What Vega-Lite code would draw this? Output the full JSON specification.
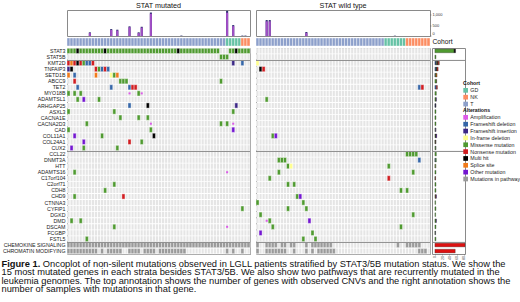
{
"$schema":"https://vega.github.io/schema/vega-lite/v6.json",
"padding":{"left":1,"top":1,"right":0,"bottom":0},
"background":"white",
"config":{"font":"Liberation Sans","view":{"stroke":"#8a8a8a","strokeWidth":1},"title":{"fontSize":7.2,"fontWeight":"normal","offset":1,"color":"#111","anchor":"middle","frame":"group"}},
"title":{"text":"Figure 1.","subtitle":["\u200b\u00a0\u00a0\u00a0\u00a0\u00a0\u00a0\u00a0\u00a0\u00a0\u00a0\u00a0\u00a0\u00a0\u00a0\u00a0\u00a0Oncoplot of non-silent mutations observed in LGLL patients stratified by STAT3/5B mutation status. We show the","15 most mutated genes in each strata besides STAT3/5B. We also show two pathways that are recurrently mutated in the","leukemia genomes. The top annotation shows the number of genes with observed CNVs and the right annotation shows the","number of samples with mutations in that gene."],"orient":"bottom","anchor":"start","frame":"bounds","fontSize":9.3,"fontWeight":"bold","color":"#111","subtitleFontSize":9.3,"subtitleFontWeight":"normal","subtitleColor":"#111","subtitlePadding":-9.3,"subtitleLineHeight":8.35,"offset":0,"font":"Liberation Sans","subtitleFont":"Liberation Sans"},
"datasets":{
"genes":[{"g":"STAT3"},{"g":"STAT5B"},{"g":"KMT2D"},{"g":"TNFAIP3"},{"g":"SETD1B"},{"g":"ABCC9"},{"g":"TET2"},{"g":"MYO18B"},{"g":"ADAMTSL1"},{"g":"ARHGAP25"},{"g":"ASXL3"},{"g":"CACNA1E"},{"g":"CACNA2D3"},{"g":"CAD"},{"g":"COL11A1"},{"g":"COL24A1"},{"g":"CUX2"},{"g":"CCL22"},{"g":"DNMT3A"},{"g":"HTT"},{"g":"ADAMTS16"},{"g":"C17orf104"},{"g":"C2orf71"},{"g":"CDH8"},{"g":"CHD9"},{"g":"CTNNA3"},{"g":"CYFIP1"},{"g":"DGKD"},{"g":"DMD"},{"g":"DSCAM"},{"g":"FCGBP"},{"g":"FSTL5"},{"g":"CHEMOKINE SIGNALING"},{"g":"CHROMATIN MODIFYING"}],
"seps":[{"g":"KMT2D"},{"g":"CCL22"},{"g":"CHEMOKINE SIGNALING"}],
"samples":[
{"p":"L","c":0,"co":"T","cnv":0,"gain":0},{"p":"L","c":1,"co":"T","cnv":0,"gain":0},{"p":"L","c":2,"co":"T","cnv":0,"gain":0},{"p":"L","c":3,"co":"T","cnv":0,"gain":0},{"p":"L","c":4,"co":"T","cnv":0,"gain":0},{"p":"L","c":5,"co":"T","cnv":0,"gain":0},{"p":"L","c":6,"co":"T","cnv":0,"gain":0},{"p":"L","c":7,"co":"T","cnv":175,"gain":140},{"p":"L","c":8,"co":"T","cnv":0,"gain":0},{"p":"L","c":9,"co":"T","cnv":0,"gain":0},
{"p":"L","c":10,"co":"T","cnv":0,"gain":0},{"p":"L","c":11,"co":"T","cnv":0,"gain":0},{"p":"L","c":12,"co":"T","cnv":0,"gain":0},{"p":"L","c":13,"co":"T","cnv":0,"gain":0},{"p":"L","c":14,"co":"T","cnv":330,"gain":290},{"p":"L","c":15,"co":"T","cnv":0,"gain":0},{"p":"L","c":16,"co":"T","cnv":300,"gain":260},{"p":"L","c":17,"co":"T","cnv":0,"gain":0},{"p":"L","c":18,"co":"T","cnv":0,"gain":0},{"p":"L","c":19,"co":"T","cnv":0,"gain":0},
{"p":"L","c":20,"co":"T","cnv":460,"gain":420},{"p":"L","c":21,"co":"T","cnv":0,"gain":0},{"p":"L","c":22,"co":"T","cnv":0,"gain":0},{"p":"L","c":23,"co":"T","cnv":175,"gain":140},{"p":"L","c":24,"co":"T","cnv":440,"gain":400},{"p":"L","c":25,"co":"T","cnv":0,"gain":0},{"p":"L","c":26,"co":"T","cnv":0,"gain":0},{"p":"L","c":27,"co":"T","cnv":1120,"gain":1060},{"p":"L","c":28,"co":"T","cnv":0,"gain":0},{"p":"L","c":29,"co":"T","cnv":0,"gain":0},
{"p":"L","c":30,"co":"T","cnv":0,"gain":0},{"p":"L","c":31,"co":"T","cnv":0,"gain":0},{"p":"L","c":32,"co":"T","cnv":0,"gain":0},{"p":"L","c":33,"co":"T","cnv":0,"gain":0},{"p":"L","c":34,"co":"T","cnv":0,"gain":0},{"p":"L","c":35,"co":"T","cnv":0,"gain":0},{"p":"L","c":36,"co":"T","cnv":0,"gain":0},{"p":"L","c":37,"co":"T","cnv":20,"gain":0},{"p":"L","c":38,"co":"T","cnv":0,"gain":0},{"p":"L","c":39,"co":"T","cnv":0,"gain":0},
{"p":"L","c":40,"co":"T","cnv":0,"gain":0},{"p":"L","c":41,"co":"T","cnv":0,"gain":0},{"p":"L","c":42,"co":"T","cnv":0,"gain":0},{"p":"L","c":43,"co":"T","cnv":0,"gain":0},{"p":"L","c":44,"co":"T","cnv":0,"gain":0},{"p":"L","c":45,"co":"T","cnv":0,"gain":0},{"p":"L","c":46,"co":"T","cnv":0,"gain":0},{"p":"L","c":47,"co":"T","cnv":0,"gain":0},{"p":"L","c":48,"co":"T","cnv":0,"gain":0},{"p":"L","c":49,"co":"T","cnv":0,"gain":0},
{"p":"L","c":50,"co":"T","cnv":0,"gain":0},{"p":"L","c":51,"co":"T","cnv":0,"gain":0},{"p":"L","c":52,"co":"GD","cnv":1200,"gain":1110},{"p":"L","c":53,"co":"GD","cnv":0,"gain":0},{"p":"L","c":54,"co":"GD","cnv":520,"gain":470},{"p":"L","c":55,"co":"GD","cnv":0,"gain":0},{"p":"L","c":56,"co":"GD","cnv":0,"gain":0},{"p":"L","c":57,"co":"NK","cnv":20,"gain":0},{"p":"L","c":58,"co":"NK","cnv":20,"gain":0},{"p":"L","c":59,"co":"NK","cnv":0,"gain":0},
{"p":"R","c":0,"co":"T","cnv":0,"gain":0},{"p":"R","c":1,"co":"T","cnv":0,"gain":0},{"p":"R","c":2,"co":"T","cnv":0,"gain":0},{"p":"R","c":3,"co":"T","cnv":760,"gain":700},{"p":"R","c":4,"co":"T","cnv":760,"gain":700},{"p":"R","c":5,"co":"T","cnv":0,"gain":0},{"p":"R","c":6,"co":"T","cnv":0,"gain":0},{"p":"R","c":7,"co":"T","cnv":0,"gain":0},{"p":"R","c":8,"co":"T","cnv":0,"gain":0},{"p":"R","c":9,"co":"T","cnv":0,"gain":0},
{"p":"R","c":10,"co":"T","cnv":0,"gain":0},{"p":"R","c":11,"co":"T","cnv":0,"gain":0},{"p":"R","c":12,"co":"T","cnv":0,"gain":0},{"p":"R","c":13,"co":"T","cnv":0,"gain":0},{"p":"R","c":14,"co":"T","cnv":0,"gain":0},{"p":"R","c":15,"co":"T","cnv":0,"gain":0},{"p":"R","c":16,"co":"T","cnv":190,"gain":150},{"p":"R","c":17,"co":"T","cnv":0,"gain":0},{"p":"R","c":18,"co":"T","cnv":0,"gain":0},{"p":"R","c":19,"co":"T","cnv":0,"gain":0},
{"p":"R","c":20,"co":"T","cnv":0,"gain":0},{"p":"R","c":21,"co":"T","cnv":0,"gain":0},{"p":"R","c":22,"co":"T","cnv":0,"gain":0},{"p":"R","c":23,"co":"T","cnv":0,"gain":0},{"p":"R","c":24,"co":"T","cnv":0,"gain":0},{"p":"R","c":25,"co":"T","cnv":0,"gain":0},{"p":"R","c":26,"co":"T","cnv":0,"gain":0},{"p":"R","c":27,"co":"T","cnv":0,"gain":0},{"p":"R","c":28,"co":"T","cnv":0,"gain":0},{"p":"R","c":29,"co":"T","cnv":0,"gain":0},
{"p":"R","c":30,"co":"T","cnv":0,"gain":0},{"p":"R","c":31,"co":"T","cnv":0,"gain":0},{"p":"R","c":32,"co":"T","cnv":0,"gain":0},{"p":"R","c":33,"co":"T","cnv":0,"gain":0},{"p":"R","c":34,"co":"T","cnv":0,"gain":0},{"p":"R","c":35,"co":"T","cnv":0,"gain":0},{"p":"R","c":36,"co":"T","cnv":0,"gain":0},{"p":"R","c":37,"co":"T","cnv":0,"gain":0},{"p":"R","c":38,"co":"T","cnv":0,"gain":0},{"p":"R","c":39,"co":"T","cnv":0,"gain":0},
{"p":"R","c":40,"co":"T","cnv":0,"gain":0},{"p":"R","c":41,"co":"T","cnv":0,"gain":0},{"p":"R","c":42,"co":"GD","cnv":0,"gain":0},{"p":"R","c":43,"co":"GD","cnv":0,"gain":0},{"p":"R","c":44,"co":"GD","cnv":0,"gain":0},{"p":"R","c":45,"co":"GD","cnv":15,"gain":0},{"p":"R","c":46,"co":"GD","cnv":0,"gain":0},{"p":"R","c":47,"co":"GD","cnv":0,"gain":0},{"p":"R","c":48,"co":"GD","cnv":0,"gain":0},{"p":"R","c":49,"co":"NK","cnv":0,"gain":0},
{"p":"R","c":50,"co":"NK","cnv":0,"gain":0},{"p":"R","c":51,"co":"NK","cnv":0,"gain":0},{"p":"R","c":52,"co":"NK","cnv":0,"gain":0},{"p":"R","c":53,"co":"NK","cnv":0,"gain":0},{"p":"R","c":54,"co":"NK","cnv":0,"gain":0},{"p":"R","c":55,"co":"NK","cnv":0,"gain":0},{"p":"R","c":56,"co":"NK","cnv":0,"gain":0}
],
"muts":[
{"p":"L","c":0,"g":"STAT3","t":"Missense mutation"},{"p":"L","c":1,"g":"STAT3","t":"Missense mutation"},{"p":"L","c":2,"g":"STAT3","t":"Missense mutation"},{"p":"L","c":3,"g":"STAT3","t":"Multi hit"},{"p":"L","c":4,"g":"STAT3","t":"Missense mutation"},{"p":"L","c":5,"g":"STAT3","t":"Missense mutation"},{"p":"L","c":6,"g":"STAT3","t":"Missense mutation"},{"p":"L","c":7,"g":"STAT3","t":"Missense mutation"},{"p":"L","c":8,"g":"STAT3","t":"Missense mutation"},{"p":"L","c":9,"g":"STAT3","t":"Missense mutation"},
{"p":"L","c":10,"g":"STAT3","t":"Missense mutation"},{"p":"L","c":11,"g":"STAT3","t":"Missense mutation"},{"p":"L","c":12,"g":"STAT3","t":"Multi hit"},{"p":"L","c":13,"g":"STAT3","t":"Missense mutation"},{"p":"L","c":14,"g":"STAT3","t":"Missense mutation"},{"p":"L","c":15,"g":"STAT3","t":"Missense mutation"},{"p":"L","c":16,"g":"STAT3","t":"Missense mutation"},{"p":"L","c":17,"g":"STAT3","t":"Missense mutation"},{"p":"L","c":18,"g":"STAT3","t":"Missense mutation"},{"p":"L","c":19,"g":"STAT3","t":"Missense mutation"},
{"p":"L","c":20,"g":"STAT3","t":"Missense mutation"},{"p":"L","c":21,"g":"STAT3","t":"Missense mutation"},{"p":"L","c":22,"g":"STAT3","t":"Missense mutation"},{"p":"L","c":23,"g":"STAT3","t":"Missense mutation"},{"p":"L","c":24,"g":"STAT3","t":"Missense mutation"},{"p":"L","c":25,"g":"STAT3","t":"Missense mutation"},{"p":"L","c":26,"g":"STAT3","t":"Missense mutation"},{"p":"L","c":27,"g":"STAT3","t":"Missense mutation"},{"p":"L","c":28,"g":"STAT3","t":"Missense mutation"},{"p":"L","c":29,"g":"STAT3","t":"Missense mutation"},
{"p":"L","c":30,"g":"STAT3","t":"Missense mutation"},{"p":"L","c":31,"g":"STAT3","t":"Missense mutation"},{"p":"L","c":32,"g":"STAT3","t":"Missense mutation"},{"p":"L","c":33,"g":"STAT3","t":"Missense mutation"},{"p":"L","c":34,"g":"STAT3","t":"Missense mutation"},{"p":"L","c":35,"g":"STAT3","t":"Missense mutation"},{"p":"L","c":36,"g":"STAT3","t":"Multi hit"},{"p":"L","c":37,"g":"STAT3","t":"Missense mutation"},{"p":"L","c":38,"g":"STAT3","t":"Missense mutation"},{"p":"L","c":39,"g":"STAT3","t":"Missense mutation"},
{"p":"L","c":40,"g":"STAT3","t":"Missense mutation"},{"p":"L","c":41,"g":"STAT3","t":"Missense mutation"},{"p":"L","c":42,"g":"STAT3","t":"Missense mutation"},{"p":"L","c":43,"g":"STAT3","t":"Missense mutation"},{"p":"L","c":44,"g":"STAT3","t":"Missense mutation"},{"p":"L","c":45,"g":"STAT3","t":"Missense mutation"},{"p":"L","c":46,"g":"STAT3","t":"Missense mutation"},{"p":"L","c":47,"g":"STAT3","t":"Missense mutation"},{"p":"L","c":48,"g":"STAT3","t":"Missense mutation"},{"p":"L","c":49,"g":"STAT3","t":"Missense mutation"},
{"p":"L","c":53,"g":"STAT3","t":"Missense mutation"},{"p":"L","c":54,"g":"STAT3","t":"Missense mutation"},{"p":"L","c":55,"g":"STAT3","t":"Multi hit"},{"p":"L","c":56,"g":"STAT3","t":"Missense mutation"},{"p":"L","c":57,"g":"STAT3","t":"Missense mutation"},{"p":"L","c":58,"g":"STAT3","t":"Missense mutation"},{"p":"L","c":59,"g":"STAT3","t":"Missense mutation"},
{"p":"L","c":50,"g":"STAT5B","t":"Missense mutation"},{"p":"L","c":51,"g":"STAT5B","t":"Missense mutation"},{"p":"L","c":52,"g":"STAT5B","t":"Missense mutation"},
{"p":"L","c":0,"g":"KMT2D","t":"Nonsense mutation"},{"p":"L","c":1,"g":"KMT2D","t":"Splice site"},{"p":"L","c":2,"g":"KMT2D","t":"Nonsense mutation"},{"p":"L","c":3,"g":"KMT2D","t":"Multi hit"},{"p":"L","c":4,"g":"KMT2D","t":"Nonsense mutation"},{"p":"L","c":5,"g":"KMT2D","t":"Missense mutation"},{"p":"L","c":6,"g":"KMT2D","t":"Frameshift deletion"},{"p":"L","c":7,"g":"KMT2D","t":"Frameshift deletion"},{"p":"L","c":8,"g":"KMT2D","t":"Nonsense mutation"},{"p":"L","c":54,"g":"KMT2D","t":"Frameshift insertion"},{"p":"L","c":57,"g":"KMT2D","t":"Frameshift deletion"},
{"p":"L","c":0,"g":"TNFAIP3","t":"Frameshift insertion"},{"p":"L","c":1,"g":"TNFAIP3","t":"Multi hit"},{"p":"L","c":9,"g":"TNFAIP3","t":"Nonsense mutation"},{"p":"L","c":10,"g":"TNFAIP3","t":"Missense mutation"},{"p":"L","c":11,"g":"TNFAIP3","t":"Frameshift deletion"},{"p":"L","c":12,"g":"TNFAIP3","t":"Nonsense mutation"},{"p":"L","c":13,"g":"TNFAIP3","t":"Frameshift deletion"},
{"p":"L","c":0,"g":"SETD1B","t":"Splice site"},{"p":"L","c":2,"g":"SETD1B","t":"Frameshift deletion"},{"p":"L","c":9,"g":"SETD1B","t":"Splice site"},{"p":"L","c":14,"g":"SETD1B","t":"In-frame deletion"},{"p":"L","c":15,"g":"SETD1B","t":"Missense mutation"},{"p":"L","c":16,"g":"SETD1B","t":"Splice site"},
{"p":"L","c":2,"g":"ABCC9","t":"Nonsense mutation"},{"p":"L","c":17,"g":"ABCC9","t":"Missense mutation"},{"p":"L","c":18,"g":"ABCC9","t":"Missense mutation"},{"p":"L","c":19,"g":"ABCC9","t":"Missense mutation"},{"p":"L","c":50,"g":"ABCC9","t":"Missense mutation"},
{"p":"L","c":3,"g":"TET2","t":"Frameshift deletion"},{"p":"L","c":14,"g":"TET2","t":"Frameshift deletion"},{"p":"L","c":20,"g":"TET2","t":"Frameshift deletion"},{"p":"L","c":21,"g":"TET2","t":"Nonsense mutation"},{"p":"L","c":22,"g":"TET2","t":"Nonsense mutation"},
{"p":"L","c":0,"g":"MYO18B","t":"Missense mutation"},{"p":"L","c":2,"g":"MYO18B","t":"Missense mutation"},{"p":"L","c":4,"g":"MYO18B","t":"Missense mutation"},{"p":"L","c":20,"g":"MYO18B","t":"Amplification"},{"p":"L","c":23,"g":"MYO18B","t":"Missense mutation"},{"p":"L","c":24,"g":"MYO18B","t":"Amplification"},
{"p":"L","c":3,"g":"ADAMTSL1","t":"Missense mutation"},{"p":"L","c":5,"g":"ADAMTSL1","t":"Other mutation"},{"p":"L","c":10,"g":"ADAMTSL1","t":"Missense mutation"},
{"p":"L","c":20,"g":"ARHGAP25","t":"Frameshift deletion"},{"p":"L","c":26,"g":"ARHGAP25","t":"Multi hit"},{"p":"L","c":55,"g":"ARHGAP25","t":"Frameshift insertion"},
{"p":"L","c":0,"g":"ASXL3","t":"Missense mutation"},{"p":"L","c":15,"g":"ASXL3","t":"Missense mutation"},{"p":"L","c":54,"g":"ASXL3","t":"Missense mutation"},
{"p":"L","c":17,"g":"CACNA1E","t":"Missense mutation"},{"p":"L","c":23,"g":"CACNA1E","t":"Missense mutation"},{"p":"L","c":26,"g":"CACNA1E","t":"Missense mutation"},
{"p":"L","c":6,"g":"CACNA2D3","t":"Missense mutation"},{"p":"L","c":27,"g":"CACNA2D3","t":"Amplification"},{"p":"L","c":50,"g":"CACNA2D3","t":"Missense mutation"},{"p":"L","c":52,"g":"CACNA2D3","t":"Missense mutation"},{"p":"L","c":54,"g":"CACNA2D3","t":"Amplification"},
{"p":"L","c":0,"g":"CAD","t":"Missense mutation"},{"p":"L","c":27,"g":"CAD","t":"Missense mutation"},{"p":"L","c":54,"g":"CAD","t":"Other mutation"},
{"p":"L","c":2,"g":"COL11A1","t":"Other mutation"},{"p":"L","c":11,"g":"COL11A1","t":"Missense mutation"},{"p":"L","c":28,"g":"COL11A1","t":"Multi hit"},
{"p":"L","c":5,"g":"COL24A1","t":"Other mutation"},{"p":"L","c":20,"g":"COL24A1","t":"Nonsense mutation"},{"p":"L","c":24,"g":"COL24A1","t":"Missense mutation"},
{"p":"L","c":1,"g":"CUX2","t":"Other mutation"},{"p":"L","c":5,"g":"CUX2","t":"Missense mutation"},{"p":"L","c":16,"g":"CUX2","t":"Missense mutation"},
{"p":"L","c":2,"g":"ADAMTS16","t":"Missense mutation"},{"p":"L","c":52,"g":"ADAMTS16","t":"Amplification"},
{"p":"L","c":15,"g":"C2orf71","t":"Missense mutation"},
{"p":"L","c":12,"g":"CDH8","t":"Missense mutation"},
{"p":"L","c":2,"g":"CHD9","t":"Missense mutation"},{"p":"L","c":18,"g":"CHD9","t":"Nonsense mutation"},
{"p":"L","c":57,"g":"CYFIP1","t":"Missense mutation"},
{"p":"L","c":1,"g":"DMD","t":"Missense mutation"},{"p":"L","c":4,"g":"DMD","t":"Missense mutation"},
{"p":"L","c":15,"g":"DSCAM","t":"Missense mutation"},{"p":"L","c":52,"g":"DSCAM","t":"Amplification"},
{"p":"L","c":6,"g":"FSTL5","t":"Missense mutation"},
{"p":"L","c":0,"g":"CHEMOKINE SIGNALING","t":"Mutations in pathway"},{"p":"L","c":1,"g":"CHEMOKINE SIGNALING","t":"Mutations in pathway"},{"p":"L","c":2,"g":"CHEMOKINE SIGNALING","t":"Mutations in pathway"},{"p":"L","c":3,"g":"CHEMOKINE SIGNALING","t":"Mutations in pathway"},{"p":"L","c":4,"g":"CHEMOKINE SIGNALING","t":"Mutations in pathway"},{"p":"L","c":5,"g":"CHEMOKINE SIGNALING","t":"Mutations in pathway"},{"p":"L","c":6,"g":"CHEMOKINE SIGNALING","t":"Mutations in pathway"},{"p":"L","c":7,"g":"CHEMOKINE SIGNALING","t":"Mutations in pathway"},{"p":"L","c":8,"g":"CHEMOKINE SIGNALING","t":"Mutations in pathway"},{"p":"L","c":9,"g":"CHEMOKINE SIGNALING","t":"Mutations in pathway"},
{"p":"L","c":10,"g":"CHEMOKINE SIGNALING","t":"Mutations in pathway"},{"p":"L","c":11,"g":"CHEMOKINE SIGNALING","t":"Mutations in pathway"},{"p":"L","c":12,"g":"CHEMOKINE SIGNALING","t":"Mutations in pathway"},{"p":"L","c":13,"g":"CHEMOKINE SIGNALING","t":"Mutations in pathway"},{"p":"L","c":14,"g":"CHEMOKINE SIGNALING","t":"Mutations in pathway"},{"p":"L","c":15,"g":"CHEMOKINE SIGNALING","t":"Mutations in pathway"},{"p":"L","c":16,"g":"CHEMOKINE SIGNALING","t":"Mutations in pathway"},{"p":"L","c":17,"g":"CHEMOKINE SIGNALING","t":"Mutations in pathway"},{"p":"L","c":18,"g":"CHEMOKINE SIGNALING","t":"Mutations in pathway"},{"p":"L","c":19,"g":"CHEMOKINE SIGNALING","t":"Mutations in pathway"},
{"p":"L","c":20,"g":"CHEMOKINE SIGNALING","t":"Mutations in pathway"},{"p":"L","c":21,"g":"CHEMOKINE SIGNALING","t":"Mutations in pathway"},{"p":"L","c":22,"g":"CHEMOKINE SIGNALING","t":"Mutations in pathway"},{"p":"L","c":23,"g":"CHEMOKINE SIGNALING","t":"Mutations in pathway"},{"p":"L","c":24,"g":"CHEMOKINE SIGNALING","t":"Mutations in pathway"},{"p":"L","c":25,"g":"CHEMOKINE SIGNALING","t":"Mutations in pathway"},{"p":"L","c":26,"g":"CHEMOKINE SIGNALING","t":"Mutations in pathway"},{"p":"L","c":27,"g":"CHEMOKINE SIGNALING","t":"Mutations in pathway"},{"p":"L","c":28,"g":"CHEMOKINE SIGNALING","t":"Mutations in pathway"},{"p":"L","c":29,"g":"CHEMOKINE SIGNALING","t":"Mutations in pathway"},
{"p":"L","c":30,"g":"CHEMOKINE SIGNALING","t":"Mutations in pathway"},{"p":"L","c":31,"g":"CHEMOKINE SIGNALING","t":"Mutations in pathway"},{"p":"L","c":32,"g":"CHEMOKINE SIGNALING","t":"Mutations in pathway"},{"p":"L","c":33,"g":"CHEMOKINE SIGNALING","t":"Mutations in pathway"},{"p":"L","c":34,"g":"CHEMOKINE SIGNALING","t":"Mutations in pathway"},{"p":"L","c":35,"g":"CHEMOKINE SIGNALING","t":"Mutations in pathway"},{"p":"L","c":36,"g":"CHEMOKINE SIGNALING","t":"Mutations in pathway"},{"p":"L","c":37,"g":"CHEMOKINE SIGNALING","t":"Mutations in pathway"},{"p":"L","c":38,"g":"CHEMOKINE SIGNALING","t":"Mutations in pathway"},{"p":"L","c":39,"g":"CHEMOKINE SIGNALING","t":"Mutations in pathway"},
{"p":"L","c":40,"g":"CHEMOKINE SIGNALING","t":"Mutations in pathway"},{"p":"L","c":41,"g":"CHEMOKINE SIGNALING","t":"Mutations in pathway"},{"p":"L","c":42,"g":"CHEMOKINE SIGNALING","t":"Mutations in pathway"},{"p":"L","c":43,"g":"CHEMOKINE SIGNALING","t":"Mutations in pathway"},{"p":"L","c":44,"g":"CHEMOKINE SIGNALING","t":"Mutations in pathway"},{"p":"L","c":45,"g":"CHEMOKINE SIGNALING","t":"Mutations in pathway"},{"p":"L","c":46,"g":"CHEMOKINE SIGNALING","t":"Mutations in pathway"},{"p":"L","c":47,"g":"CHEMOKINE SIGNALING","t":"Mutations in pathway"},{"p":"L","c":48,"g":"CHEMOKINE SIGNALING","t":"Mutations in pathway"},{"p":"L","c":49,"g":"CHEMOKINE SIGNALING","t":"Mutations in pathway"},
{"p":"L","c":50,"g":"CHEMOKINE SIGNALING","t":"Mutations in pathway"},{"p":"L","c":51,"g":"CHEMOKINE SIGNALING","t":"Mutations in pathway"},{"p":"L","c":52,"g":"CHEMOKINE SIGNALING","t":"Mutations in pathway"},{"p":"L","c":53,"g":"CHEMOKINE SIGNALING","t":"Mutations in pathway"},{"p":"L","c":54,"g":"CHEMOKINE SIGNALING","t":"Mutations in pathway"},{"p":"L","c":55,"g":"CHEMOKINE SIGNALING","t":"Mutations in pathway"},{"p":"L","c":56,"g":"CHEMOKINE SIGNALING","t":"Mutations in pathway"},{"p":"L","c":57,"g":"CHEMOKINE SIGNALING","t":"Mutations in pathway"},{"p":"L","c":58,"g":"CHEMOKINE SIGNALING","t":"Mutations in pathway"},{"p":"L","c":59,"g":"CHEMOKINE SIGNALING","t":"Mutations in pathway"},
{"p":"L","c":0,"g":"CHROMATIN MODIFYING","t":"Mutations in pathway"},{"p":"L","c":1,"g":"CHROMATIN MODIFYING","t":"Mutations in pathway"},{"p":"L","c":2,"g":"CHROMATIN MODIFYING","t":"Mutations in pathway"},{"p":"L","c":3,"g":"CHROMATIN MODIFYING","t":"Mutations in pathway"},{"p":"L","c":4,"g":"CHROMATIN MODIFYING","t":"Mutations in pathway"},{"p":"L","c":5,"g":"CHROMATIN MODIFYING","t":"Mutations in pathway"},{"p":"L","c":6,"g":"CHROMATIN MODIFYING","t":"Mutations in pathway"},{"p":"L","c":7,"g":"CHROMATIN MODIFYING","t":"Mutations in pathway"},{"p":"L","c":8,"g":"CHROMATIN MODIFYING","t":"Mutations in pathway"},{"p":"L","c":9,"g":"CHROMATIN MODIFYING","t":"Mutations in pathway"},
{"p":"L","c":11,"g":"CHROMATIN MODIFYING","t":"Mutations in pathway"},{"p":"L","c":13,"g":"CHROMATIN MODIFYING","t":"Mutations in pathway"},{"p":"L","c":14,"g":"CHROMATIN MODIFYING","t":"Mutations in pathway"},{"p":"L","c":15,"g":"CHROMATIN MODIFYING","t":"Mutations in pathway"},{"p":"L","c":16,"g":"CHROMATIN MODIFYING","t":"Mutations in pathway"},{"p":"L","c":17,"g":"CHROMATIN MODIFYING","t":"Mutations in pathway"},
{"p":"L","c":20,"g":"CHROMATIN MODIFYING","t":"Mutations in pathway"},{"p":"L","c":21,"g":"CHROMATIN MODIFYING","t":"Mutations in pathway"},{"p":"L","c":22,"g":"CHROMATIN MODIFYING","t":"Mutations in pathway"},{"p":"L","c":23,"g":"CHROMATIN MODIFYING","t":"Mutations in pathway"},
{"p":"L","c":25,"g":"CHROMATIN MODIFYING","t":"Mutations in pathway"},{"p":"L","c":26,"g":"CHROMATIN MODIFYING","t":"Mutations in pathway"},{"p":"L","c":27,"g":"CHROMATIN MODIFYING","t":"Mutations in pathway"},{"p":"L","c":28,"g":"CHROMATIN MODIFYING","t":"Mutations in pathway"},
{"p":"L","c":30,"g":"CHROMATIN MODIFYING","t":"Mutations in pathway"},{"p":"L","c":31,"g":"CHROMATIN MODIFYING","t":"Mutations in pathway"},{"p":"L","c":32,"g":"CHROMATIN MODIFYING","t":"Mutations in pathway"},{"p":"L","c":33,"g":"CHROMATIN MODIFYING","t":"Mutations in pathway"},{"p":"L","c":34,"g":"CHROMATIN MODIFYING","t":"Mutations in pathway"},{"p":"L","c":35,"g":"CHROMATIN MODIFYING","t":"Mutations in pathway"},{"p":"L","c":36,"g":"CHROMATIN MODIFYING","t":"Mutations in pathway"},{"p":"L","c":37,"g":"CHROMATIN MODIFYING","t":"Mutations in pathway"},{"p":"L","c":38,"g":"CHROMATIN MODIFYING","t":"Mutations in pathway"},
{"p":"L","c":52,"g":"CHROMATIN MODIFYING","t":"Mutations in pathway"},{"p":"L","c":54,"g":"CHROMATIN MODIFYING","t":"Mutations in pathway"},{"p":"L","c":57,"g":"CHROMATIN MODIFYING","t":"Mutations in pathway"},
{"p":"R","c":0,"g":"KMT2D","t":"In-frame deletion"},
{"p":"R","c":1,"g":"TNFAIP3","t":"Multi hit"},{"p":"R","c":2,"g":"TNFAIP3","t":"Nonsense mutation"},
{"p":"R","c":53,"g":"TET2","t":"Frameshift deletion"},{"p":"R","c":54,"g":"TET2","t":"Nonsense mutation"},
{"p":"R","c":3,"g":"ADAMTSL1","t":"Missense mutation"},
{"p":"R","c":5,"g":"COL11A1","t":"Missense mutation"},{"p":"R","c":6,"g":"COL11A1","t":"Other mutation"},
{"p":"R","c":49,"g":"CCL22","t":"Missense mutation"},{"p":"R","c":50,"g":"CCL22","t":"Missense mutation"},{"p":"R","c":51,"g":"CCL22","t":"Missense mutation"},{"p":"R","c":52,"g":"CCL22","t":"Missense mutation"},
{"p":"R","c":7,"g":"DNMT3A","t":"Missense mutation"},{"p":"R","c":8,"g":"DNMT3A","t":"Missense mutation"},{"p":"R","c":9,"g":"DNMT3A","t":"Missense mutation"},{"p":"R","c":53,"g":"DNMT3A","t":"Frameshift deletion"},
{"p":"R","c":10,"g":"HTT","t":"Missense mutation"},{"p":"R","c":11,"g":"HTT","t":"In-frame deletion"},{"p":"R","c":43,"g":"HTT","t":"Missense mutation"},
{"p":"R","c":7,"g":"ADAMTS16","t":"Missense mutation"},{"p":"R","c":51,"g":"ADAMTS16","t":"Missense mutation"},
{"p":"R","c":4,"g":"C17orf104","t":"Missense mutation"},{"p":"R","c":43,"g":"C17orf104","t":"Nonsense mutation"},
{"p":"R","c":10,"g":"C2orf71","t":"Missense mutation"},{"p":"R","c":12,"g":"C2orf71","t":"Missense mutation"},
{"p":"R","c":47,"g":"CDH8","t":"Missense mutation"},{"p":"R","c":49,"g":"CDH8","t":"Missense mutation"},
{"p":"R","c":13,"g":"CHD9","t":"Missense mutation"},{"p":"R","c":14,"g":"CHD9","t":"Other mutation"},
{"p":"R","c":0,"g":"CTNNA3","t":"Missense mutation"},{"p":"R","c":15,"g":"CTNNA3","t":"Missense mutation"},
{"p":"R","c":10,"g":"CYFIP1","t":"Missense mutation"},{"p":"R","c":16,"g":"CYFIP1","t":"Missense mutation"},
{"p":"R","c":1,"g":"DGKD","t":"Missense mutation"},{"p":"R","c":51,"g":"DGKD","t":"Missense mutation"},
{"p":"R","c":3,"g":"DMD","t":"Amplification"},{"p":"R","c":4,"g":"DMD","t":"Missense mutation"},{"p":"R","c":17,"g":"DMD","t":"Other mutation"},
{"p":"R","c":5,"g":"DSCAM","t":"Missense mutation"},{"p":"R","c":47,"g":"DSCAM","t":"Missense mutation"},
{"p":"R","c":1,"g":"FCGBP","t":"Other mutation"},{"p":"R","c":18,"g":"FCGBP","t":"Missense mutation"},
{"p":"R","c":15,"g":"FSTL5","t":"Missense mutation"},{"p":"R","c":19,"g":"FSTL5","t":"Missense mutation"},
{"p":"R","c":0,"g":"CHEMOKINE SIGNALING","t":"Mutations in pathway"},{"p":"R","c":3,"g":"CHEMOKINE SIGNALING","t":"Mutations in pathway"},{"p":"R","c":4,"g":"CHEMOKINE SIGNALING","t":"Mutations in pathway"},{"p":"R","c":5,"g":"CHEMOKINE SIGNALING","t":"Mutations in pathway"},{"p":"R","c":6,"g":"CHEMOKINE SIGNALING","t":"Mutations in pathway"},{"p":"R","c":8,"g":"CHEMOKINE SIGNALING","t":"Mutations in pathway"},{"p":"R","c":9,"g":"CHEMOKINE SIGNALING","t":"Mutations in pathway"},{"p":"R","c":11,"g":"CHEMOKINE SIGNALING","t":"Mutations in pathway"},{"p":"R","c":12,"g":"CHEMOKINE SIGNALING","t":"Mutations in pathway"},{"p":"R","c":16,"g":"CHEMOKINE SIGNALING","t":"Mutations in pathway"},
{"p":"R","c":18,"g":"CHEMOKINE SIGNALING","t":"Mutations in pathway"},{"p":"R","c":19,"g":"CHEMOKINE SIGNALING","t":"Mutations in pathway"},{"p":"R","c":20,"g":"CHEMOKINE SIGNALING","t":"Mutations in pathway"},{"p":"R","c":21,"g":"CHEMOKINE SIGNALING","t":"Mutations in pathway"},{"p":"R","c":22,"g":"CHEMOKINE SIGNALING","t":"Mutations in pathway"},{"p":"R","c":23,"g":"CHEMOKINE SIGNALING","t":"Mutations in pathway"},{"p":"R","c":24,"g":"CHEMOKINE SIGNALING","t":"Mutations in pathway"},{"p":"R","c":46,"g":"CHEMOKINE SIGNALING","t":"Mutations in pathway"},{"p":"R","c":49,"g":"CHEMOKINE SIGNALING","t":"Mutations in pathway"},{"p":"R","c":50,"g":"CHEMOKINE SIGNALING","t":"Mutations in pathway"},
{"p":"R","c":51,"g":"CHEMOKINE SIGNALING","t":"Mutations in pathway"},{"p":"R","c":52,"g":"CHEMOKINE SIGNALING","t":"Mutations in pathway"},{"p":"R","c":53,"g":"CHEMOKINE SIGNALING","t":"Mutations in pathway"},
{"p":"R","c":0,"g":"CHROMATIN MODIFYING","t":"Mutations in pathway"},{"p":"R","c":3,"g":"CHROMATIN MODIFYING","t":"Mutations in pathway"},{"p":"R","c":4,"g":"CHROMATIN MODIFYING","t":"Mutations in pathway"},{"p":"R","c":5,"g":"CHROMATIN MODIFYING","t":"Mutations in pathway"},{"p":"R","c":6,"g":"CHROMATIN MODIFYING","t":"Mutations in pathway"},{"p":"R","c":7,"g":"CHROMATIN MODIFYING","t":"Mutations in pathway"},{"p":"R","c":8,"g":"CHROMATIN MODIFYING","t":"Mutations in pathway"},{"p":"R","c":9,"g":"CHROMATIN MODIFYING","t":"Mutations in pathway"},{"p":"R","c":12,"g":"CHROMATIN MODIFYING","t":"Mutations in pathway"},{"p":"R","c":16,"g":"CHROMATIN MODIFYING","t":"Mutations in pathway"},
{"p":"R","c":18,"g":"CHROMATIN MODIFYING","t":"Mutations in pathway"},{"p":"R","c":20,"g":"CHROMATIN MODIFYING","t":"Mutations in pathway"},{"p":"R","c":21,"g":"CHROMATIN MODIFYING","t":"Mutations in pathway"},{"p":"R","c":22,"g":"CHROMATIN MODIFYING","t":"Mutations in pathway"},{"p":"R","c":23,"g":"CHROMATIN MODIFYING","t":"Mutations in pathway"},{"p":"R","c":24,"g":"CHROMATIN MODIFYING","t":"Mutations in pathway"},{"p":"R","c":25,"g":"CHROMATIN MODIFYING","t":"Mutations in pathway"},{"p":"R","c":53,"g":"CHROMATIN MODIFYING","t":"Mutations in pathway"},{"p":"R","c":54,"g":"CHROMATIN MODIFYING","t":"Mutations in pathway"},{"p":"R","c":55,"g":"CHROMATIN MODIFYING","t":"Mutations in pathway"}
]
},
"spacing":4,
"hconcat":[
 {"spacing":0,"vconcat":[
  {"title":"STAT mutated","width":183,"height":26,"data":{"name":"samples"},"transform":[{"filter":"datum.p === 'L'"}],
   "layer":[
    {"mark":{"type":"bar","color":"#2b2d6e","width":{"band":0.68}},"encoding":{"x":{"field":"c","type":"ordinal","axis":null,"scale":{"paddingInner":0,"paddingOuter":0}},"y":{"field":"cnv","type":"quantitative","scale":{"domain":[0,1240],"nice":false},"axis":{"labels":false,"ticks":false,"domain":false,"grid":false,"title":null,"minExtent":65,"maxExtent":65}}}},
    {"mark":{"type":"bar","color":"#a24fc6","width":{"band":0.68}},"encoding":{"x":{"field":"c","type":"ordinal","axis":null,"scale":{"paddingInner":0,"paddingOuter":0}},"y":{"field":"gain","type":"quantitative","scale":{"domain":[0,1240],"nice":false},"axis":{"labels":false,"ticks":false,"domain":false,"grid":false,"title":null,"minExtent":65,"maxExtent":65}}}}
   ]},
  {"width":183,"height":8,"view":{"stroke":null},"data":{"name":"samples"},"transform":[{"filter":"datum.p === 'L'"}],
   "mark":{"type":"rect","stroke":"white","strokeWidth":0.4},
   "encoding":{"x":{"field":"c","type":"ordinal","axis":null,"scale":{"paddingInner":0,"paddingOuter":0}},
    "y":{"datum":"Cohort","type":"nominal","scale":{"paddingInner":0,"paddingOuter":0},"axis":{"labels":false,"ticks":false,"domain":false,"grid":false,"title":null,"minExtent":65,"maxExtent":65}},
    "fill":{"field":"co","type":"nominal","scale":{"domain":["GD","NK","T"],"range":["#66c2a5","#fc8d62","#8da0cb"]},"legend":{"title":"Cohort","orient":"none","legendX":396,"legendY":71,"symbolType":"square","symbolSize":22,"symbolStrokeWidth":0,"labelFontSize":5.3,"titleFontSize":5.2,"titleFontWeight":"bold","labelOffset":2,"rowPadding":0.85,"titlePadding":1.5,"padding":0,"labelColor":"#222","titleColor":"#111","labelLimit":0}}}},
  {"width":183,"height":206,
   "layer":[
    {"data":{"name":"genes"},"mark":{"type":"rect","color":"#e5e5e5"},"encoding":{"y":{"field":"g","type":"nominal","scale":{"domain":["STAT3","STAT5B","KMT2D","TNFAIP3","SETD1B","ABCC9","TET2","MYO18B","ADAMTSL1","ARHGAP25","ASXL3","CACNA1E","CACNA2D3","CAD","COL11A1","COL24A1","CUX2","CCL22","DNMT3A","HTT","ADAMTS16","C17orf104","C2orf71","CDH8","CHD9","CTNNA3","CYFIP1","DGKD","DMD","DSCAM","FCGBP","FSTL5","CHEMOKINE SIGNALING","CHROMATIN MODIFYING"],"paddingInner":0.14,"paddingOuter":0.05},"axis":{"orient":"left","title":null,"labelFontSize":5.25,"labelPadding":2,"ticks":false,"domain":false,"grid":false,"labelColor":"#1a1a1a","minExtent":65,"maxExtent":65}}}},
    {"data":{"name":"samples"},"transform":[{"filter":"datum.p === 'L'"}],"mark":{"type":"rect","fillOpacity":0,"stroke":"white","strokeWidth":0.6},"encoding":{"x":{"field":"c","type":"ordinal","axis":null,"scale":{"paddingInner":0,"paddingOuter":0}}}},
    {"data":{"name":"muts"},"transform":[{"filter":"datum.p === 'L' && datum.t !== 'Amplification'"}],"mark":{"type":"rect","stroke":"white","strokeWidth":0.4},
     "encoding":{"x":{"field":"c","type":"ordinal","axis":null,"scale":{"paddingInner":0,"paddingOuter":0}},
      "y":{"field":"g","type":"nominal","scale":{"domain":["STAT3","STAT5B","KMT2D","TNFAIP3","SETD1B","ABCC9","TET2","MYO18B","ADAMTSL1","ARHGAP25","ASXL3","CACNA1E","CACNA2D3","CAD","COL11A1","COL24A1","CUX2","CCL22","DNMT3A","HTT","ADAMTS16","C17orf104","C2orf71","CDH8","CHD9","CTNNA3","CYFIP1","DGKD","DMD","DSCAM","FCGBP","FSTL5","CHEMOKINE SIGNALING","CHROMATIN MODIFYING"],"paddingInner":0.14,"paddingOuter":0.05},"axis":{"orient":"left","title":null,"labelFontSize":5.25,"labelPadding":2,"ticks":false,"domain":false,"grid":false,"labelColor":"#1a1a1a","minExtent":65,"maxExtent":65}},
      "color":{"field":"t","type":"nominal","scale":{"domain":["Amplification","Frameshift deletion","Frameshift insertion","In-frame deletion","Missense mutation","Nonsense mutation","Multi hit","Splice site","Other mutation","Mutations in pathway"],"range":["#dc5ae8","#3566a8","#3b2785","#ffff8f","#4f9a30","#d01c20","#000000","#f07a1a","#7316d0","#9a9a9a"]},"legend":{"title":"Alterations","orient":"none","legendX":396,"legendY":98,"symbolType":"square","symbolSize":22,"symbolStrokeWidth":0,"labelFontSize":5.3,"titleFontSize":5.2,"titleFontWeight":"bold","labelOffset":2,"rowPadding":0.85,"titlePadding":1.5,"padding":0,"labelColor":"#222","titleColor":"#111","labelLimit":0}}}},
    {"data":{"name":"muts"},"transform":[{"filter":"datum.p === 'L' && datum.t === 'Amplification'"}],"mark":{"type":"square","size":4,"filled":true,"opacity":1},
     "encoding":{"x":{"field":"c","type":"ordinal","axis":null,"scale":{"paddingInner":0,"paddingOuter":0}},
      "y":{"field":"g","type":"nominal","scale":{"domain":["STAT3","STAT5B","KMT2D","TNFAIP3","SETD1B","ABCC9","TET2","MYO18B","ADAMTSL1","ARHGAP25","ASXL3","CACNA1E","CACNA2D3","CAD","COL11A1","COL24A1","CUX2","CCL22","DNMT3A","HTT","ADAMTS16","C17orf104","C2orf71","CDH8","CHD9","CTNNA3","CYFIP1","DGKD","DMD","DSCAM","FCGBP","FSTL5","CHEMOKINE SIGNALING","CHROMATIN MODIFYING"],"paddingInner":0.14,"paddingOuter":0.05},"axis":{"orient":"left","title":null,"labelFontSize":5.25,"labelPadding":2,"ticks":false,"domain":false,"grid":false,"labelColor":"#1a1a1a","minExtent":65,"maxExtent":65}},
      "color":{"field":"t","type":"nominal","scale":{"domain":["Amplification","Frameshift deletion","Frameshift insertion","In-frame deletion","Missense mutation","Nonsense mutation","Multi hit","Splice site","Other mutation","Mutations in pathway"],"range":["#dc5ae8","#3566a8","#3b2785","#ffff8f","#4f9a30","#d01c20","#000000","#f07a1a","#7316d0","#9a9a9a"]},"legend":{"title":"Alterations","orient":"none","legendX":396,"legendY":98,"symbolType":"square","symbolSize":22,"symbolStrokeWidth":0,"labelFontSize":5.3,"titleFontSize":5.2,"titleFontWeight":"bold","labelOffset":2,"rowPadding":0.85,"titlePadding":1.5,"padding":0,"labelColor":"#222","titleColor":"#111","labelLimit":0}}}},
    {"data":{"name":"seps"},"mark":{"type":"rule","color":"#8a8a8a","strokeWidth":1},
     "encoding":{"y":{"field":"g","type":"nominal","bandPosition":0,"scale":{"domain":["STAT3","STAT5B","KMT2D","TNFAIP3","SETD1B","ABCC9","TET2","MYO18B","ADAMTSL1","ARHGAP25","ASXL3","CACNA1E","CACNA2D3","CAD","COL11A1","COL24A1","CUX2","CCL22","DNMT3A","HTT","ADAMTS16","C17orf104","C2orf71","CDH8","CHD9","CTNNA3","CYFIP1","DGKD","DMD","DSCAM","FCGBP","FSTL5","CHEMOKINE SIGNALING","CHROMATIN MODIFYING"],"paddingInner":0.14,"paddingOuter":0.05},"axis":{"orient":"left","title":null,"labelFontSize":5.25,"labelPadding":2,"ticks":false,"domain":false,"grid":false,"labelColor":"#1a1a1a","minExtent":65,"maxExtent":65}}}}
   ]}
 ]},
 {"spacing":0,"vconcat":[
  {"title":"STAT wild type","width":174,"height":26,"data":{"name":"samples"},"transform":[{"filter":"datum.p === 'R'"}],
   "layer":[
    {"mark":{"type":"bar","color":"#2b2d6e","width":{"band":0.68}},"encoding":{"x":{"field":"c","type":"ordinal","axis":null,"scale":{"paddingInner":0,"paddingOuter":0}},"y":{"field":"cnv","type":"quantitative","scale":{"domain":[0,1240],"nice":false},"axis":{"orient":"right","values":[0,500,1000],"labelFontSize":4,"tickSize":1.5,"tickWidth":0.5,"translate":0,"labelPadding":1,"domain":false,"grid":false,"title":null,"labelFlush":true,"labelColor":"#333","tickColor":"#555"}}}},
    {"mark":{"type":"bar","color":"#a24fc6","width":{"band":0.68}},"encoding":{"x":{"field":"c","type":"ordinal","axis":null,"scale":{"paddingInner":0,"paddingOuter":0}},"y":{"field":"gain","type":"quantitative","scale":{"domain":[0,1240],"nice":false},"axis":{"orient":"right","values":[0,500,1000],"labelFontSize":4,"tickSize":1.5,"tickWidth":0.5,"translate":0,"labelPadding":1,"domain":false,"grid":false,"title":null,"labelFlush":true,"labelColor":"#333","tickColor":"#555"}}}}
   ]},
  {"width":174,"height":8,"view":{"stroke":null},"data":{"name":"samples"},"transform":[{"filter":"datum.p === 'R'"}],
   "mark":{"type":"rect","stroke":"white","strokeWidth":0.4},
   "encoding":{"x":{"field":"c","type":"ordinal","axis":null,"scale":{"paddingInner":0,"paddingOuter":0}},
    "y":{"datum":"Cohort","type":"nominal","scale":{"paddingInner":0,"paddingOuter":0},"axis":{"orient":"right","labelFontSize":6.7,"ticks":false,"domain":false,"grid":false,"title":null,"labelPadding":2,"labelColor":"#111"}},
    "fill":{"field":"co","type":"nominal","scale":{"domain":["GD","NK","T"],"range":["#66c2a5","#fc8d62","#8da0cb"]},"legend":{"title":"Cohort","orient":"none","legendX":396,"legendY":71,"symbolType":"square","symbolSize":22,"symbolStrokeWidth":0,"labelFontSize":5.3,"titleFontSize":5.2,"titleFontWeight":"bold","labelOffset":2,"rowPadding":0.85,"titlePadding":1.5,"padding":0,"labelColor":"#222","titleColor":"#111","labelLimit":0}}}},
  {"spacing":0,"hconcat":[
   {"width":174,"height":206,
    "layer":[
     {"data":{"name":"genes"},"mark":{"type":"rect","color":"#e5e5e5"},"encoding":{"y":{"field":"g","type":"nominal","scale":{"domain":["STAT3","STAT5B","KMT2D","TNFAIP3","SETD1B","ABCC9","TET2","MYO18B","ADAMTSL1","ARHGAP25","ASXL3","CACNA1E","CACNA2D3","CAD","COL11A1","COL24A1","CUX2","CCL22","DNMT3A","HTT","ADAMTS16","C17orf104","C2orf71","CDH8","CHD9","CTNNA3","CYFIP1","DGKD","DMD","DSCAM","FCGBP","FSTL5","CHEMOKINE SIGNALING","CHROMATIN MODIFYING"],"paddingInner":0.14,"paddingOuter":0.05},"axis":null}}},
     {"data":{"name":"samples"},"transform":[{"filter":"datum.p === 'R'"}],"mark":{"type":"rect","fillOpacity":0,"stroke":"white","strokeWidth":0.6},"encoding":{"x":{"field":"c","type":"ordinal","axis":null,"scale":{"paddingInner":0,"paddingOuter":0}}}},
     {"data":{"name":"muts"},"transform":[{"filter":"datum.p === 'R' && datum.t !== 'Amplification'"}],"mark":{"type":"rect","stroke":"white","strokeWidth":0.4},
      "encoding":{"x":{"field":"c","type":"ordinal","axis":null,"scale":{"paddingInner":0,"paddingOuter":0}},
       "y":{"field":"g","type":"nominal","scale":{"domain":["STAT3","STAT5B","KMT2D","TNFAIP3","SETD1B","ABCC9","TET2","MYO18B","ADAMTSL1","ARHGAP25","ASXL3","CACNA1E","CACNA2D3","CAD","COL11A1","COL24A1","CUX2","CCL22","DNMT3A","HTT","ADAMTS16","C17orf104","C2orf71","CDH8","CHD9","CTNNA3","CYFIP1","DGKD","DMD","DSCAM","FCGBP","FSTL5","CHEMOKINE SIGNALING","CHROMATIN MODIFYING"],"paddingInner":0.14,"paddingOuter":0.05},"axis":null},
       "color":{"field":"t","type":"nominal","scale":{"domain":["Amplification","Frameshift deletion","Frameshift insertion","In-frame deletion","Missense mutation","Nonsense mutation","Multi hit","Splice site","Other mutation","Mutations in pathway"],"range":["#dc5ae8","#3566a8","#3b2785","#ffff8f","#4f9a30","#d01c20","#000000","#f07a1a","#7316d0","#9a9a9a"]},"legend":{"title":"Alterations","orient":"none","legendX":396,"legendY":98,"symbolType":"square","symbolSize":22,"symbolStrokeWidth":0,"labelFontSize":5.3,"titleFontSize":5.2,"titleFontWeight":"bold","labelOffset":2,"rowPadding":0.85,"titlePadding":1.5,"padding":0,"labelColor":"#222","titleColor":"#111","labelLimit":0}}}},
     {"data":{"name":"muts"},"transform":[{"filter":"datum.p === 'R' && datum.t === 'Amplification'"}],"mark":{"type":"square","size":4,"filled":true,"opacity":1},
      "encoding":{"x":{"field":"c","type":"ordinal","axis":null,"scale":{"paddingInner":0,"paddingOuter":0}},
       "y":{"field":"g","type":"nominal","scale":{"domain":["STAT3","STAT5B","KMT2D","TNFAIP3","SETD1B","ABCC9","TET2","MYO18B","ADAMTSL1","ARHGAP25","ASXL3","CACNA1E","CACNA2D3","CAD","COL11A1","COL24A1","CUX2","CCL22","DNMT3A","HTT","ADAMTS16","C17orf104","C2orf71","CDH8","CHD9","CTNNA3","CYFIP1","DGKD","DMD","DSCAM","FCGBP","FSTL5","CHEMOKINE SIGNALING","CHROMATIN MODIFYING"],"paddingInner":0.14,"paddingOuter":0.05},"axis":null},
       "color":{"field":"t","type":"nominal","scale":{"domain":["Amplification","Frameshift deletion","Frameshift insertion","In-frame deletion","Missense mutation","Nonsense mutation","Multi hit","Splice site","Other mutation","Mutations in pathway"],"range":["#dc5ae8","#3566a8","#3b2785","#ffff8f","#4f9a30","#d01c20","#000000","#f07a1a","#7316d0","#9a9a9a"]},"legend":{"title":"Alterations","orient":"none","legendX":396,"legendY":98,"symbolType":"square","symbolSize":22,"symbolStrokeWidth":0,"labelFontSize":5.3,"titleFontSize":5.2,"titleFontWeight":"bold","labelOffset":2,"rowPadding":0.85,"titlePadding":1.5,"padding":0,"labelColor":"#222","titleColor":"#111","labelLimit":0}}}},
     {"data":{"name":"seps"},"mark":{"type":"rule","color":"#8a8a8a","strokeWidth":1},
      "encoding":{"y":{"field":"g","type":"nominal","bandPosition":0,"scale":{"domain":["STAT3","STAT5B","KMT2D","TNFAIP3","SETD1B","ABCC9","TET2","MYO18B","ADAMTSL1","ARHGAP25","ASXL3","CACNA1E","CACNA2D3","CAD","COL11A1","COL24A1","CUX2","CCL22","DNMT3A","HTT","ADAMTS16","C17orf104","C2orf71","CDH8","CHD9","CTNNA3","CYFIP1","DGKD","DMD","DSCAM","FCGBP","FSTL5","CHEMOKINE SIGNALING","CHROMATIN MODIFYING"],"paddingInner":0.14,"paddingOuter":0.05},"axis":null}}}
    ]},
   {"width":33,"height":206,
    "layer":[
     {"data":{"name":"muts"},"transform":[{"filter":"datum.t !== 'Amplification'"}],"mark":{"type":"bar","height":{"band":0.7},"stroke":"#1a1a1a","strokeWidth":0.3},
      "encoding":{"y":{"field":"g","type":"nominal","scale":{"domain":["STAT3","STAT5B","KMT2D","TNFAIP3","SETD1B","ABCC9","TET2","MYO18B","ADAMTSL1","ARHGAP25","ASXL3","CACNA1E","CACNA2D3","CAD","COL11A1","COL24A1","CUX2","CCL22","DNMT3A","HTT","ADAMTS16","C17orf104","C2orf71","CDH8","CHD9","CTNNA3","CYFIP1","DGKD","DMD","DSCAM","FCGBP","FSTL5","CHEMOKINE SIGNALING","CHROMATIN MODIFYING"],"paddingInner":0.14,"paddingOuter":0.05},"axis":null},
       "x":{"aggregate":"count","type":"quantitative","scale":{"domain":[-8,83],"nice":false,"zero":false},"axis":{"orient":"bottom","values":[0,20,40,60,80],"labelAngle":-90,"labelFontSize":3.5,"tickSize":1,"tickWidth":0.5,"labelPadding":0.5,"domain":false,"grid":false,"title":null,"labelColor":"#333","tickColor":"#555"}},
       "color":{"field":"t","type":"nominal","condition":{"test":"datum.g === 'CHEMOKINE SIGNALING' || datum.g === 'CHROMATIN MODIFYING'","value":"#dd1111"},"scale":{"domain":["Amplification","Frameshift deletion","Frameshift insertion","In-frame deletion","Missense mutation","Nonsense mutation","Multi hit","Splice site","Other mutation","Mutations in pathway"],"range":["#dc5ae8","#3566a8","#3b2785","#ffff8f","#4f9a30","#d01c20","#000000","#f07a1a","#7316d0","#9a9a9a"]},"legend":{"title":"Alterations","orient":"none","legendX":396,"legendY":98,"symbolType":"square","symbolSize":22,"symbolStrokeWidth":0,"labelFontSize":5.3,"titleFontSize":5.2,"titleFontWeight":"bold","labelOffset":2,"rowPadding":0.85,"titlePadding":1.5,"padding":0,"labelColor":"#222","titleColor":"#111","labelLimit":0}}}},
     {"data":{"name":"seps"},"mark":{"type":"rule","color":"#8a8a8a","strokeWidth":1},
      "encoding":{"y":{"field":"g","type":"nominal","bandPosition":0,"scale":{"domain":["STAT3","STAT5B","KMT2D","TNFAIP3","SETD1B","ABCC9","TET2","MYO18B","ADAMTSL1","ARHGAP25","ASXL3","CACNA1E","CACNA2D3","CAD","COL11A1","COL24A1","CUX2","CCL22","DNMT3A","HTT","ADAMTS16","C17orf104","C2orf71","CDH8","CHD9","CTNNA3","CYFIP1","DGKD","DMD","DSCAM","FCGBP","FSTL5","CHEMOKINE SIGNALING","CHROMATIN MODIFYING"],"paddingInner":0.14,"paddingOuter":0.05},"axis":null}}}
    ]}
  ]}
 ]}
]
}
